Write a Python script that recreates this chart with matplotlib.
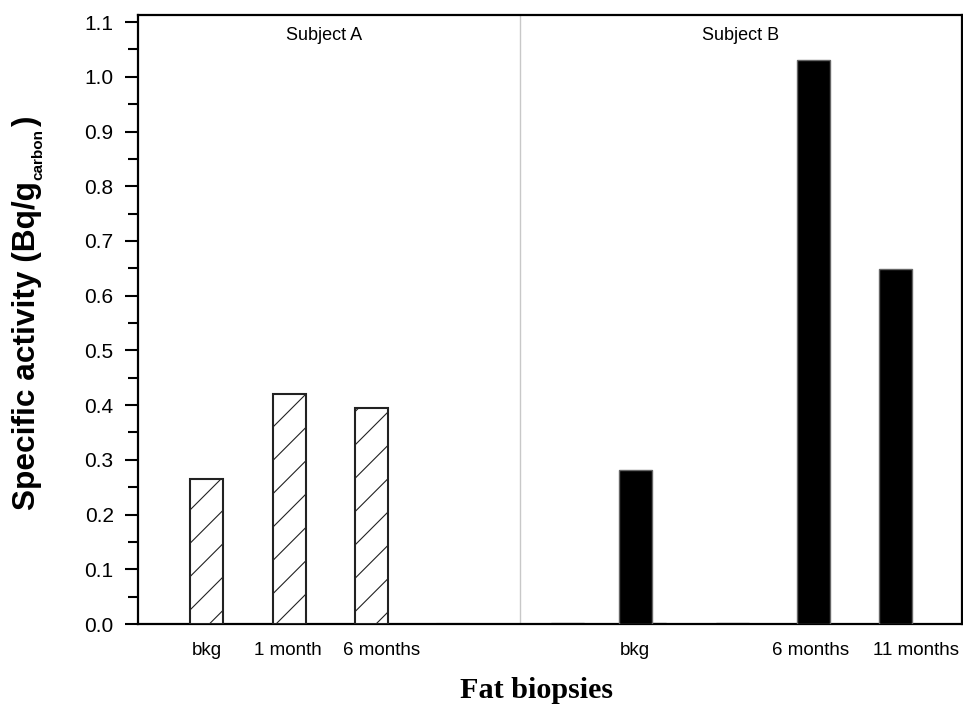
import matplotlib
matplotlib.use("Agg")
import matplotlib.pyplot as plt
from matplotlib.ticker import MultipleLocator, FormatStrFormatter

# ---- data ----
subject_a_labels = ["bkg", "1 month", "6 months"]
subject_a_values = [0.2645, 0.4205, 0.3955]
subject_b_labels = ["bkg", "6 months", "11 months"]
subject_b_values = [0.281, 1.031, 0.6496]
near_zero_a = [0.002]
near_zero_b = [0.002, 0.002, 0.002]

# ---- layout (slot positions) ----
pos_a = [1.0, 2.0, 2.99]
pos_a_zero = [3.96]
pos_b = [6.17, 8.31, 9.30]
pos_b_zero = [5.35, 6.34, 7.34]
label_pos_a = [1.0, 1.98, 3.11]
label_pos_b = [6.16, 8.28, 9.55]
divider = 4.78
bar_w = 0.40

plt.rcParams["font.family"] = ["Liberation Sans", "DejaVu Sans"]
plt.rcParams["hatch.linewidth"] = 0.8

fig = plt.figure(figsize=(9.63, 7.10), dpi=100)
ax = fig.add_axes([138 / 963, 86 / 710, 824 / 963, 609 / 710])

ax.axvline(divider, color="#c8c8c8", lw=1.0, zorder=0)

ax.bar(pos_a_zero, near_zero_a, width=bar_w, color="white", edgecolor="#999999",
       hatch="/", linewidth=0.8, zorder=2)
ax.bar(pos_b_zero, near_zero_b, width=bar_w, color="white", edgecolor="#888888",
       linewidth=1.0, zorder=2)
ax.bar(pos_a, subject_a_values, width=bar_w, color="white", edgecolor="#222222",
       hatch="/", linewidth=1.5, zorder=3)
ax.bar(pos_b, subject_b_values, width=bar_w, color="black", edgecolor="#666666",
       linewidth=1.0, zorder=3)

ax.set_xlim(0.175, 10.10)
ax.set_ylim(0, 1.113)
ax.yaxis.set_major_locator(MultipleLocator(0.1))
ax.yaxis.set_minor_locator(MultipleLocator(0.05))
ax.yaxis.set_major_formatter(FormatStrFormatter("%.1f"))
ax.tick_params(axis="y", which="major", direction="out", length=9.5, width=1.5,
               labelsize=15, pad=8)
ax.tick_params(axis="y", which="minor", direction="out", length=7, width=1.5)

ax.set_xticks(label_pos_a + label_pos_b)
ax.set_xticklabels(subject_a_labels + subject_b_labels)
ax.tick_params(axis="x", length=0, labelsize=13.5, pad=13)

for s in ax.spines.values():
    s.set_linewidth(1.6)

ax.text(2.42, 1.075, "Subject A", ha="center", va="center", fontsize=13)
ax.text(7.43, 1.075, "Subject B", ha="center", va="center", fontsize=13)

# y label built from pieces (small subscript as in the original)
fig.canvas.draw()
renderer = fig.canvas.get_renderer()
x_base = 35 / 963
t1 = fig.text(x_base, (710 - 510) / 710, "Specific activity (Bq/g", rotation=90,
              rotation_mode="anchor", ha="left", va="baseline", fontsize=22.8,
              fontweight="bold")
bb1 = t1.get_window_extent(renderer)
t2 = fig.text((35 + 7) / 963, (bb1.y1 + 1) / 710, "carbon", rotation=90,
              rotation_mode="anchor", ha="left", va="baseline", fontsize=11,
              fontweight="bold")
bb2 = t2.get_window_extent(renderer)
fig.text(x_base, (bb2.y1 + 2) / 710, ")", rotation=90, rotation_mode="anchor",
         ha="left", va="baseline", fontsize=22.8, fontweight="bold")

fig.text(536 / 963, 1 - 690 / 710, "Fat biopsies", ha="center", va="center",
         fontsize=21.7, fontweight="bold", family="Liberation Serif")

fig.savefig("out.png", dpi=100)
